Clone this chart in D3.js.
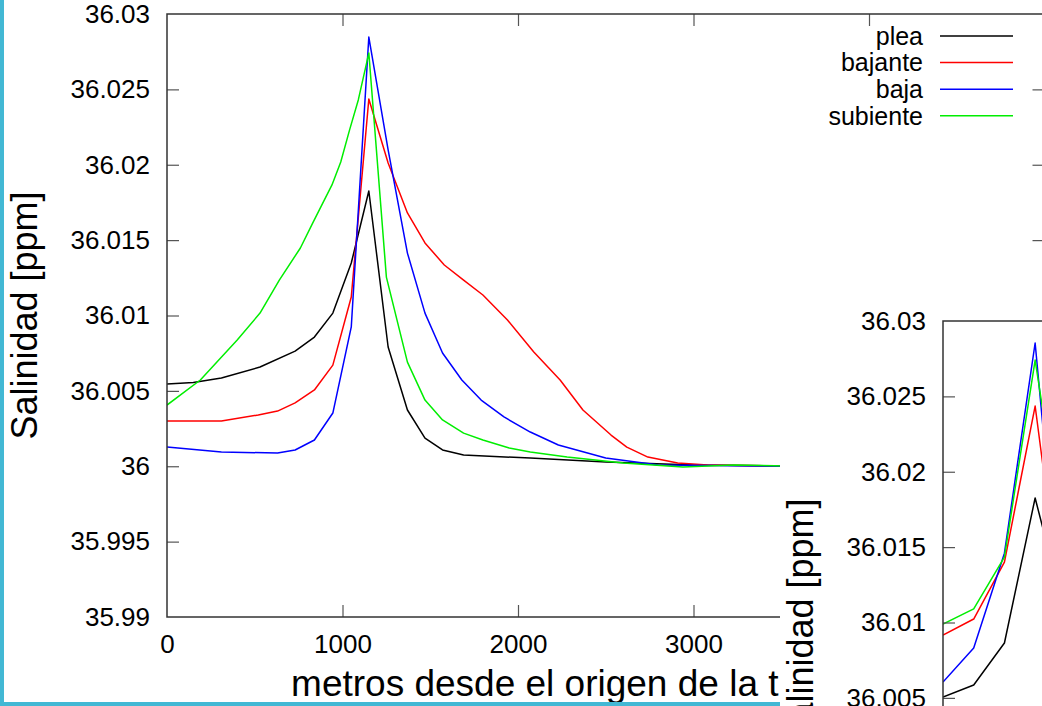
<!DOCTYPE html>
<html>
<head>
<meta charset="utf-8">
<script src="https://cdn.jsdelivr.net/npm/d3@7"></script>
<style>
  body { margin: 0; background: #fff; }
  svg { display: block; }
  text { font-family: "Liberation Sans", Arial, Helvetica, sans-serif; fill: #000; }
</style>
</head>
<body>
<div id="chart"></div>
<script>
// tick values
const yTicks = [35.99, 35.995, 36, 36.005, 36.01, 36.015, 36.02, 36.025, 36.03];
const xTicks = [0, 1000, 2000, 3000, 4000, 5000];

// main plot: distance [m] and salinity [ppm] for each tide state
const pleaDist = [0, 150, 310, 530, 730, 840, 945, 1050, 1150, 1260, 1370, 1470, 1570, 1690, 2070, 2500, 3000, 3600];
const pleaSal  = [36.00545, 36.00555, 36.00585, 36.00658, 36.00764, 36.00857, 36.01016, 36.01348, 36.01826, 36.00791, 36.00373, 36.00187, 36.00108, 36.00074, 36.00054, 36.00028, 36.00008, 36.0];

const bajanteDist = [0, 310, 520, 630, 730, 840, 945, 1050, 1150, 1260, 1370, 1470, 1580, 1690, 1800, 1940, 2090, 2240, 2370, 2530, 2620, 2740, 2910, 3080, 3600];
const bajanteSal  = [36.0030, 36.0030, 36.0034, 36.00366, 36.0042, 36.00506, 36.00671, 36.01123, 36.02436, 36.02012, 36.0168, 36.01481, 36.01335, 36.01235, 36.01136, 36.0097, 36.00758, 36.00572, 36.00373, 36.00207, 36.00127, 36.00061, 36.00021, 36.00008, 36.0];

const bajaDist = [0, 310, 630, 730, 840, 945, 1050, 1150, 1260, 1370, 1470, 1570, 1680, 1790, 1920, 2070, 2230, 2500, 2800, 3600];
const bajaSal  = [36.00127, 36.00094, 36.00088, 36.00108, 36.00174, 36.00353, 36.00924, 36.02847, 36.02098, 36.01414, 36.01016, 36.00751, 36.00572, 36.00439, 36.00327, 36.00227, 36.00141, 36.00055, 36.00008, 36.0];

const subienteDist = [0, 190, 400, 530, 640, 760, 830, 940, 990, 1040, 1090, 1150, 1250, 1370, 1470, 1570, 1690, 1800, 1950, 2070, 2280, 2600, 2940, 3230, 3600];
const subienteSal  = [36.00406, 36.00572, 36.00837, 36.01016, 36.01235, 36.01448, 36.01613, 36.01866, 36.02018, 36.0223, 36.0243, 36.02741, 36.01255, 36.00691, 36.00439, 36.00307, 36.0022, 36.00174, 36.00121, 36.00094, 36.00061, 36.00021, 35.99995, 36.00008, 36.0];

// second (overlapping) plot, only its left part is visible
const zoomDist = [0, 105, 210, 315, 420];
const zoomPlea     = [36.00506, 36.00585, 36.00864, 36.01826, 36.0103];
const zoomBajante  = [36.00917, 36.01023, 36.01401, 36.02436, 36.0088];
const zoomBaja     = [36.00605, 36.00831, 36.0146, 36.02854, 36.0066];
const zoomSubiente = [36.0099, 36.0109, 36.01434, 36.02741, 36.0141];

const names  = ["plea", "bajante", "baja", "subiente"];
const colors = ["#000000", "#ff0000", "#0000ff", "#00ee00"];

const zip = (xs, ys) => xs.map((d, i) => ({ x: d, y: ys[i] }));

const mainSeries = [
  zip(pleaDist, pleaSal),
  zip(bajanteDist, bajanteSal),
  zip(bajaDist, bajaSal),
  zip(subienteDist, subienteSal)
];
const zoomSeries = [zoomPlea, zoomBajante, zoomBaja, zoomSubiente].map(v => zip(zoomDist, v));

const W = 1042, H = 706;
const svg = d3.select("#chart").append("svg")
    .attr("width", W)
    .attr("height", H);

svg.append("rect").attr("width", W).attr("height", H).attr("fill", "#fff");

const defs = svg.append("defs");

function drawPanel(parent, dx, dy, xDomain, series, id, withLegend) {
  const left = 167, top = 14, w = 877.5, h = 603;
  const g = parent.append("g").attr("transform", "translate(" + dx + "," + dy + ")");

  const x = d3.scaleLinear().domain(xDomain).range([left, left + w]);
  const y = d3.scaleLinear().domain([35.99, 36.03]).range([top + h, top]);

  defs.append("clipPath").attr("id", id)
    .append("rect").attr("x", left).attr("y", top).attr("width", w).attr("height", h);

  const line = d3.line().x(d => x(d.x)).y(d => y(d.y));

  g.append("g").attr("clip-path", "url(#" + id + ")")
    .selectAll("path")
    .data(series)
    .enter()
    .append("path")
    .attr("d", line)
    .attr("fill", "none")
    .attr("stroke", (d, i) => colors[i])
    .attr("stroke-width", 1.5)
    .attr("stroke-linejoin", "round");

  const fmt = d => String(+d.toFixed(3));

  // axes with inward ticks, gnuplot style
  const yl = g.append("g").attr("transform", "translate(" + left + ",0)")
    .call(d3.axisLeft(y).tickValues(yTicks).tickFormat(fmt).tickSizeInner(-12).tickSizeOuter(0).tickPadding(17));
  const yr = g.append("g").attr("transform", "translate(" + (left + w) + ",0)")
    .call(d3.axisRight(y).tickValues(yTicks).tickFormat("").tickSizeInner(-12).tickSizeOuter(0));
  const xb = g.append("g").attr("transform", "translate(0," + (top + h) + ")")
    .call(d3.axisBottom(x).tickValues(xTicks).tickFormat(d3.format("d")).tickSizeInner(-12).tickSizeOuter(0).tickPadding(18));
  const xt = g.append("g").attr("transform", "translate(0," + top + ")")
    .call(d3.axisTop(x).tickValues(xTicks).tickFormat("").tickSizeInner(-12).tickSizeOuter(0));

  [yl, yr, xb, xt].forEach(a => {
    a.select(".domain").remove();
    a.selectAll(".tick line").attr("stroke", "#555").attr("stroke-width", 1.2);
    a.selectAll("text").style("font-size", "26px").attr("fill", "#000");
  });
  // hide the extreme tick marks that sit on the border
  [yl, yr].forEach(a => a.selectAll(".tick").filter(d => d === 35.99 || d === 36.03).select("line").remove());
  [xb, xt].forEach(a => a.selectAll(".tick").filter(d => d === 0 || d === 5000).select("line").remove());

  g.append("rect")
    .attr("x", left).attr("y", top).attr("width", w).attr("height", h)
    .attr("fill", "none").attr("stroke", "#333").attr("stroke-width", 1.5);

  g.append("text")
    .attr("transform", "translate(37," + (top + h / 2) + ") rotate(-90)")
    .attr("text-anchor", "middle")
    .style("font-size", "36px")
    .text("Salinidad [ppm]");

  g.append("text")
    .attr("x", left + w / 2)
    .attr("y", 696)
    .attr("text-anchor", "middle")
    .style("font-size", "37px")
    .text("metros desde el origen de la transecta");

  if (withLegend) {
    const leg = g.append("g");
    names.forEach((n, i) => {
      const cy = 36 + i * 26.6;
      leg.append("text")
        .attr("x", 923).attr("y", cy).attr("dy", "0.35em")
        .attr("text-anchor", "end")
        .style("font-size", "25px")
        .text(n);
      leg.append("line")
        .attr("x1", 940).attr("x2", 1013).attr("y1", cy).attr("y2", cy)
        .attr("stroke", colors[i]).attr("stroke-width", 1.5);
    });
  }
}

// main window
drawPanel(svg, 0, 0, [0, 5000], mainSeries, "clipMain", true);

// cyan window frame
svg.append("rect").attr("x", 0).attr("y", 0).attr("width", 4).attr("height", H).attr("fill", "#42b8d4");
svg.append("rect").attr("x", 0).attr("y", H - 4).attr("width", 780).attr("height", 4).attr("fill", "#42b8d4");

// overlapping second window
const ox = 780, oy = 300;
defs.append("clipPath").attr("id", "clipOverlay")
  .append("rect").attr("x", ox).attr("y", oy).attr("width", W - ox).attr("height", H - oy);

const overlay = svg.append("g").attr("clip-path", "url(#clipOverlay)");
overlay.append("rect").attr("x", ox).attr("y", oy).attr("width", W - ox).attr("height", H - oy).attr("fill", "#fff");
drawPanel(overlay, 776, 307, [0, 3000], zoomSeries, "clipZoom", false);
</script>
</body>
</html>
